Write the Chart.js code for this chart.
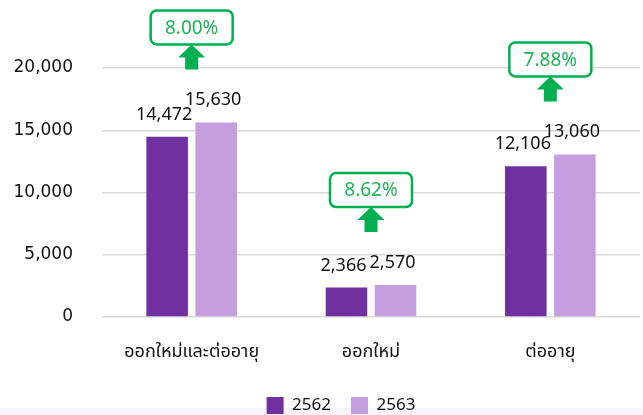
<!DOCTYPE html>
<html>
<head>
<meta charset="utf-8">
<script src="https://cdn.jsdelivr.net/npm/chart.js@4"></script>
<style>
    html, body { margin: 0; padding: 0; }
    body { background: linear-gradient(to bottom, #ffffff 0, #ffffff 408px, #f4f6f9 408px); width: 643px; height: 415px; overflow: hidden; }
    #wrap { width: 643px; height: 415px; }
</style>
</head>
<body>
<div id="wrap"><canvas id="chart" width="643" height="415"></canvas></div>
<script>
// ข้อมูลกราฟ
const categories = ['ออกใหม่และต่ออายุ', 'ออกใหม่', 'ต่ออายุ'];
const years = ['2562', '2563'];
const values2562 = [14472, 2366, 12106];
const values2563 = [15630, 2570, 13060];
const yTicks = [0, 5000, 10000, 15000, 20000];

const darkPurple = '#7030A0';
const lightPurple = '#C59EE0';
const green = '#00B050';
const thaiFont = "'Noto Sans Thai', 'Noto Sans', sans-serif";

function fmt(n) {
    return n.toLocaleString('en-US');
}

// ตัวเลขเหนือแท่ง
const valueLabels = {
    id: 'valueLabels',
    afterDatasetsDraw(chart) {
        const ctx = chart.ctx;
        ctx.save();
        ctx.font = "18px 'Noto Sans', sans-serif";
        ctx.fillStyle = '#111';
        ctx.textAlign = 'center';
        ctx.textBaseline = 'alphabetic';
        chart.data.datasets.forEach((ds, i) => {
            chart.getDatasetMeta(i).data.forEach((bar, j) => {
                ctx.fillText(fmt(ds.data[j]), bar.x - 3, bar.y - 17);
            });
        });
        ctx.restore();
    }
};

// กล่องเปอร์เซ็นต์ + ลูกศร
const growthBadges = {
    id: 'growthBadges',
    afterDraw(chart) {
        const ctx = chart.ctx;
        const x = chart.scales.x;
        const y = chart.scales.y;
        ctx.save();
        categories.forEach((c, i) => {
            const a = values2562[i];
            const b = values2563[i];
            const pct = ((b - a) / a * 100).toFixed(2) + '%';
            const cx = x.getPixelForValue(i);
            const arrowBottom = y.getPixelForValue(Math.max(a, b)) - 53;
            const shaftH = 12, headH = 13, shaftW = 13, headW = 27;
            const headTop = arrowBottom - shaftH - headH;

            ctx.fillStyle = green;
            ctx.beginPath();
            ctx.moveTo(cx - shaftW / 2, arrowBottom);
            ctx.lineTo(cx - shaftW / 2, arrowBottom - shaftH);
            ctx.lineTo(cx - headW / 2, arrowBottom - shaftH);
            ctx.lineTo(cx, headTop);
            ctx.lineTo(cx + headW / 2, arrowBottom - shaftH);
            ctx.lineTo(cx + shaftW / 2, arrowBottom - shaftH);
            ctx.lineTo(cx + shaftW / 2, arrowBottom);
            ctx.closePath();
            ctx.fill();

            const bw = 82, bh = 34;
            const bx = cx - bw / 2, by = headTop - bh;
            ctx.fillStyle = '#fff';
            ctx.strokeStyle = green;
            ctx.lineWidth = 2.5;
            ctx.beginPath();
            ctx.roundRect(bx, by, bw, bh, 6);
            ctx.fill();
            ctx.stroke();

            ctx.fillStyle = '#1DB45A';
            ctx.font = "19px 'Noto Sans', sans-serif";
            ctx.textAlign = 'center';
            ctx.textBaseline = 'middle';
            ctx.fillText(pct, cx, by + bh / 2 + 1);
        });
        ctx.restore();
    }
};

// เลื่อนคำอธิบายลงล่างและไปทางขวาเล็กน้อย
const legendShift = {
    id: 'legendShift',
    afterLayout(chart) {
        const lg = chart.legend;
        if (!lg) return;
        lg.left += 21;
        lg.right += 21;
        lg.top += 9;
        lg.bottom += 9;
    }
};

const ctx = document.getElementById('chart').getContext('2d');
new Chart(ctx, {
    type: 'bar',
    data: {
        labels: categories,
        datasets: [{
            label: years[0],
            data: values2562,
            backgroundColor: darkPurple
        }, {
            label: years[1],
            data: values2563,
            backgroundColor: lightPurple
        }]
    },
    options: {
        responsive: false,
        animation: false,
        devicePixelRatio: 1,
        layout: { padding: { top: 68, right: 3, left: 0, bottom: 0 } },
        datasets: {
            bar: { categoryPercentage: 0.547, barPercentage: 0.847 }
        },
        scales: {
            x: {
                grid: { display: false, drawTicks: false },
                border: { display: false },
                ticks: {
                    color: '#111',
                    padding: 26,
                    font: { family: thaiFont, size: 18 }
                },
                afterFit(scale) { scale.height = 51; }
            },
            y: {
                min: 0,
                max: yTicks[yTicks.length - 1],
                afterBuildTicks(scale) { scale.ticks = yTicks.map(v => ({ value: v })); },
                grid: { color: '#d9d9d9', lineWidth: 1.5, drawTicks: false },
                border: { display: false },
                ticks: {
                    color: '#111',
                    padding: 29,
                    font: { family: "'DejaVu Sans', sans-serif", size: 17 },
                    callback: v => fmt(v)
                },
                afterFit(scale) { scale.width = 102; }
            }
        },
        plugins: {
            legend: {
                position: 'bottom',
                labels: {
                    boxWidth: 17,
                    boxHeight: 17,
                    padding: 20,
                    color: '#111',
                    font: { family: "'Noto Sans', sans-serif", size: 17 }
                }
            },
            tooltip: { enabled: false }
        }
    },
    plugins: [valueLabels, growthBadges, legendShift]
});
</script>
</body>
</html>
